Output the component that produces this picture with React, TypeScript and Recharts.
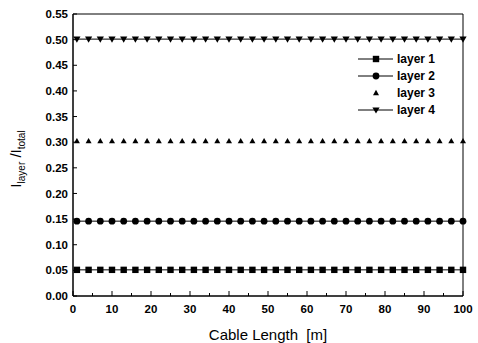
import { Legend, Line, LineChart, ReferenceArea, XAxis, YAxis } from "recharts";

const lengths = [1, 4, 7, 10, 13, 16, 19, 22, 25, 28, 31, 34, 37, 40, 43, 46, 49, 52, 55, 58, 61, 64, 67, 70, 73, 76, 79, 82, 85, 88, 91, 94, 97, 100];

const layer1 = [0.051, 0.051, 0.051, 0.051, 0.051, 0.051, 0.051, 0.051, 0.051, 0.051, 0.051, 0.051, 0.051, 0.051, 0.051, 0.051, 0.051, 0.051, 0.051, 0.051, 0.051, 0.051, 0.051, 0.051, 0.051, 0.051, 0.051, 0.051, 0.051, 0.051, 0.051, 0.051, 0.051, 0.051];
const layer2 = [0.146, 0.146, 0.146, 0.146, 0.146, 0.146, 0.146, 0.146, 0.146, 0.146, 0.146, 0.146, 0.146, 0.146, 0.146, 0.146, 0.146, 0.146, 0.146, 0.146, 0.146, 0.146, 0.146, 0.146, 0.146, 0.146, 0.146, 0.146, 0.146, 0.146, 0.146, 0.146, 0.146, 0.146];
const layer3 = [0.302, 0.302, 0.302, 0.302, 0.302, 0.302, 0.302, 0.302, 0.302, 0.302, 0.302, 0.302, 0.302, 0.302, 0.302, 0.302, 0.302, 0.302, 0.302, 0.302, 0.302, 0.302, 0.302, 0.302, 0.302, 0.302, 0.302, 0.302, 0.302, 0.302, 0.302, 0.302, 0.302, 0.302];
const layer4 = [0.501, 0.501, 0.501, 0.501, 0.501, 0.501, 0.501, 0.501, 0.501, 0.501, 0.501, 0.501, 0.501, 0.501, 0.501, 0.501, 0.501, 0.501, 0.501, 0.501, 0.501, 0.501, 0.501, 0.501, 0.501, 0.501, 0.501, 0.501, 0.501, 0.501, 0.501, 0.501, 0.501, 0.501];

const xTicks = [0, 5, 10, 15, 20, 25, 30, 35, 40, 45, 50, 55, 60, 65, 70, 75, 80, 85, 90, 95, 100];
const yTicks = [0, 0.05, 0.1, 0.15, 0.2, 0.25, 0.3, 0.35, 0.4, 0.45, 0.5, 0.55];

const series = [
  { key: "layer1", name: "layer 1", marker: "square", line: true },
  { key: "layer2", name: "layer 2", marker: "circle", line: true },
  { key: "layer3", name: "layer 3", marker: "triangle", line: false },
  { key: "layer4", name: "layer 4", marker: "down", line: true },
];

const data = lengths.map((x, i) => ({
  x,
  layer1: layer1[i],
  layer2: layer2[i],
  layer3: layer3[i],
  layer4: layer4[i],
}));

const FONT = "'Liberation Sans', Arial, Helvetica, sans-serif";
const X_MARGIN = 9;
const Y_MARGIN = 5;

function Marker({ type, cx, cy }: { type: string; cx: number; cy: number }) {
  if (type === "square") return <rect x={cx - 3.2} y={cy - 3.2} width={6.4} height={6.4} fill="#000" />;
  if (type === "circle") return <circle cx={cx} cy={cy} r={3.4} fill="#000" />;
  if (type === "triangle")
    return <polygon points={`${cx},${cy - 3.2} ${cx + 3},${cy + 2.2} ${cx - 3},${cy + 2.2}`} fill="#000" />;
  return <polygon points={`${cx - 3.6},${cy - 2.6} ${cx + 3.6},${cy - 2.6} ${cx},${cy + 3.6}`} fill="#000" />;
}

function makeDot(type: string) {
  return (p: any) => {
    if (p.cx == null || p.cy == null) return <g key={p.key ?? p.index} />;
    return (
      <g key={`${type}-${p.index}`}>
        <Marker type={type} cx={p.cx} cy={p.cy} />
      </g>
    );
  };
}

function XTick(props: any) {
  const { x, y, payload } = props;
  const v = payload.value;
  const major = v % 10 === 0;
  const axisY = y - X_MARGIN;
  return (
    <g>
      <line x1={x} x2={x} y1={axisY} y2={axisY - (major ? 5 : 3)} stroke="#000" />
      {major && (
        <text x={x} y={y} dy="0.71em" textAnchor="middle" fontSize={11.5} fontWeight="bold" fontFamily={FONT} fill="#000">
          {v}
        </text>
      )}
    </g>
  );
}

function YTick(props: any) {
  const { x, y, payload } = props;
  const axisX = x + Y_MARGIN;
  return (
    <g>
      <line x1={axisX} x2={axisX + 4} y1={y} y2={y} stroke="#000" />
      <text x={x} y={y} dy="0.355em" textAnchor="end" fontSize={11.5} fontWeight="bold" fontFamily={FONT} fill="#000">
        {payload.value.toFixed(2)}
      </text>
    </g>
  );
}

function LegendBox() {
  return (
    <svg width={100} height={72} style={{ overflow: "visible" }}>
      {series.map((s, i) => {
        const cy = 8 + i * 17;
        return (
          <g key={s.key}>
            {s.line && <line x1={2} x2={37} y1={cy} y2={cy} stroke="#000" strokeWidth={1} />}
            <Marker type={s.marker} cx={20} cy={cy} />
            <text x={41} y={cy} dy="0.36em" fontSize={12} fontWeight="bold" fontFamily={FONT} fill="#000">
              {s.name}
            </text>
          </g>
        );
      })}
    </svg>
  );
}

function YLabel() {
  return (
    <text
      transform="translate(21, 159) rotate(-90)"
      textAnchor="middle"
      fontFamily={FONT}
      fontSize={15}
      fill="#000"
    >
      I
      <tspan fontSize={10} dy={4}>layer</tspan>
      <tspan dy={-4}> /I</tspan>
      <tspan fontSize={10} dy={4}>total</tspan>
    </text>
  );
}

export default function App() {
  return (
    <div style={{ position: "absolute", left: 0, top: 0, width: 478, height: 343, background: "#fff" }}>
      <LineChart width={478} height={343} data={data} margin={{ top: 14, right: 15, bottom: 0, left: 0 }}>
        <XAxis
          dataKey="x"
          type="number"
          domain={[0, 100]}
          ticks={xTicks}
          interval={0}
          tickSize={0}
          tickMargin={X_MARGIN}
          tick={<XTick />}
          axisLine={{ stroke: "#000" }}
          height={47}
          label={{
            value: "Cable Length\u00a0 [m]",
            position: "insideBottom",
            offset: 3,
            fill: "#000",
            fontSize: 15,
            fontFamily: FONT,
          }}
        />
        <YAxis
          type="number"
          domain={[0, 0.55]}
          ticks={yTicks}
          interval={0}
          tickSize={0}
          tickMargin={Y_MARGIN}
          tick={<YTick />}
          axisLine={{ stroke: "#000" }}
          width={73}
          label={<YLabel />}
        />
        <ReferenceArea x1={0} x2={100} y1={0} y2={0.55} fill="none" stroke="#000" strokeWidth={1} ifOverflow="visible" />
        {series.map((s) => (
          <Line
            key={s.key}
            dataKey={s.key}
            name={s.name}
            type="linear"
            stroke={s.line ? "#000" : "none"}
            strokeWidth={1}
            dot={makeDot(s.marker)}
            activeDot={false}
            isAnimationActive={false}
          />
        ))}
        <Legend
          layout="vertical"
          align="center"
          verticalAlign="middle"
          content={() => <LegendBox />}
          wrapperStyle={{ position: "absolute", left: 356, top: 51, width: 100, height: 72 }}
        />
      </LineChart>
    </div>
  );
}
